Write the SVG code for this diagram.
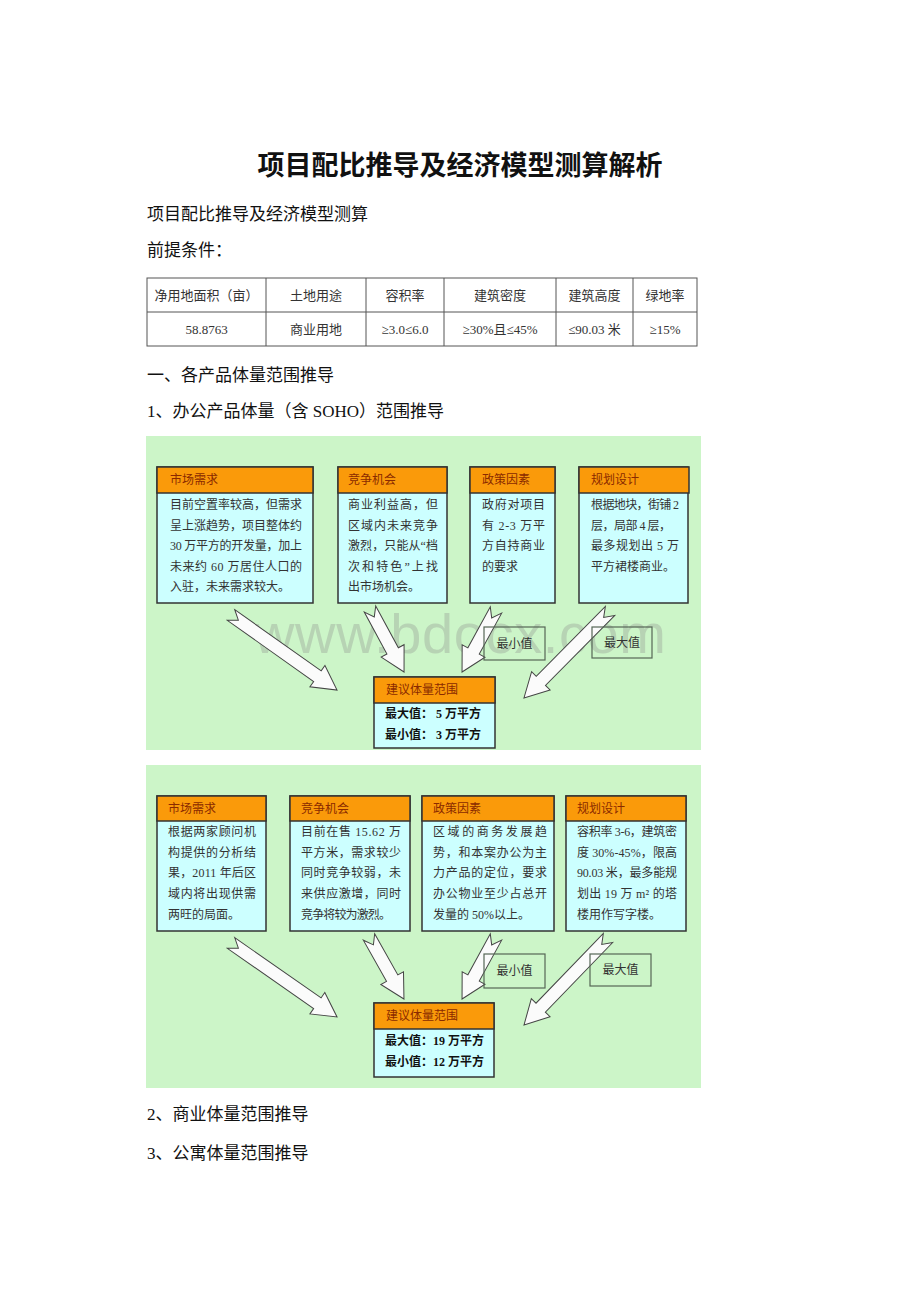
<svg xmlns="http://www.w3.org/2000/svg" width="920" height="1302" viewBox="0 0 920 1302">
<style>
.doc{font-family:"Liberation Serif","Noto Sans CJK SC",serif;font-size:17px;fill:#111}
.title{font-family:"Noto Sans CJK SC",sans-serif;font-size:27px;font-weight:700;fill:#111}
.tb{font-family:"Liberation Serif","Noto Sans CJK SC",serif;font-size:13px;fill:#333}
.grid{fill:none;stroke:#555;stroke-width:1}
.bg{fill:#ccf5c8}
.hd{fill:#fa9a0a;stroke:#333;stroke-width:1.5}
.bd{fill:#ccffff;stroke:#333;stroke-width:1.5}
.ht{font-family:"Liberation Serif","Noto Sans CJK SC",serif;font-size:12px;fill:#8a2a00}
.bt{font-family:"Liberation Serif","Noto Sans CJK SC",serif;font-size:12px;fill:#333}
.rv{font-family:"Liberation Serif","Noto Sans CJK SC",serif;font-size:12px;font-weight:700;fill:#111}
.co{fill:none;stroke:#556655;stroke-width:1.2}
.ct{font-family:"Liberation Serif","Noto Sans CJK SC",serif;font-size:12px;fill:#333}
.ar{fill:#fbfbfb;stroke:#444;stroke-width:1}
.wm{font-family:"Liberation Sans",Arial,sans-serif;font-size:56px;fill:#888;opacity:0.3}
</style>

<text class="title" x="460" y="175" text-anchor="middle">项目配比推导及经济模型测算解析</text>
<text class="doc" x="147" y="220">项目配比推导及经济模型测算</text>
<text class="doc" x="147" y="256">前提条件：</text>

<g id="table">
<rect class="grid" x="147" y="278" width="550" height="68"/>
<line class="grid" x1="147" y1="312" x2="697" y2="312"/>
<line class="grid" x1="266" y1="278" x2="266" y2="346"/>
<line class="grid" x1="366" y1="278" x2="366" y2="346"/>
<line class="grid" x1="444" y1="278" x2="444" y2="346"/>
<line class="grid" x1="556" y1="278" x2="556" y2="346"/>
<line class="grid" x1="633" y1="278" x2="633" y2="346"/>
<g text-anchor="middle">
<text class="tb" x="206.5" y="300">净用地面积（亩）</text>
<text class="tb" x="316" y="300">土地用途</text>
<text class="tb" x="405" y="300">容积率</text>
<text class="tb" x="500" y="300">建筑密度</text>
<text class="tb" x="594.5" y="300">建筑高度</text>
<text class="tb" x="665" y="300">绿地率</text>
<text class="tb" x="206.5" y="334">58.8763</text>
<text class="tb" x="316" y="334">商业用地</text>
<text class="tb" x="405" y="334">≥3.0≤6.0</text>
<text class="tb" x="500" y="334">≥30%且≤45%</text>
<text class="tb" x="594.5" y="334">≤90.03 米</text>
<text class="tb" x="665" y="334">≥15%</text>
</g>
</g>

<text class="doc" x="147" y="381">一、各产品体量范围推导</text>
<text class="doc" x="147" y="417">1、办公产品体量（含 SOHO）范围推导</text>

<!-- Diagram 1 -->
<rect class="bg" x="146" y="436" width="555" height="314"/>
<text class="wm" x="460" y="653" text-anchor="middle" textLength="412">www.bdocx.com</text>

<g id="d1-connectors">
<path class="ar" transform="translate(231,615) rotate(35.3)" d="M0,-6.5 L105.9,-6.5 L105.9,-13 L129.9,0 L105.9,13 L105.9,6.5 L0,6.5 L9,0 Z"/>
<path class="ar" transform="translate(370,609) rotate(61.6)" d="M0,-6.5 L47.6,-6.5 L47.6,-13 L71.6,0 L47.6,13 L47.6,6.5 L0,6.5 L9,0 Z"/>
<path class="ar" transform="translate(496,610) rotate(118.7)" d="M0,-6.5 L46.7,-6.5 L46.7,-13 L70.7,0 L46.7,13 L46.7,6.5 L0,6.5 L9,0 Z"/>
<path class="ar" transform="translate(610,611) rotate(134.7)" d="M0,-6.5 L98.3,-6.5 L98.3,-13 L122.3,0 L98.3,13 L98.3,6.5 L0,6.5 L9,0 Z"/>
</g>

<g id="d1-market">
<rect class="bd" x="157" y="467" width="156" height="136"/>
<rect class="hd" x="157" y="467" width="156" height="26"/>
<text class="ht" x="170" y="484">市场需求</text>
<text class="bt" x="170" y="509" textLength="132" lengthAdjust="spacing">目前空置率较高，但需求</text>
<text class="bt" x="170" y="529.5" textLength="132" lengthAdjust="spacing">呈上涨趋势，项目整体约</text>
<text class="bt" x="170" y="550" textLength="132" lengthAdjust="spacing">30 万平方的开发量，加上</text>
<text class="bt" x="170" y="570.5" textLength="132" lengthAdjust="spacing">未来约 60 万居住人口的</text>
<text class="bt" x="170" y="591">入驻，未来需求较大。</text>
</g>

<g id="d1-competition">
<rect class="bd" x="338" y="467" width="109" height="136"/>
<rect class="hd" x="338" y="467" width="109" height="26"/>
<text class="ht" x="348" y="484">竞争机会</text>
<text class="bt" x="348" y="509" textLength="90" lengthAdjust="spacing">商业利益高，但</text>
<text class="bt" x="348" y="529.5" textLength="90" lengthAdjust="spacing">区域内未来竞争</text>
<text class="bt" x="348" y="550" textLength="90" lengthAdjust="spacing">激烈，只能从“档</text>
<text class="bt" x="348" y="570.5" textLength="90" lengthAdjust="spacing">次和特色”上找</text>
<text class="bt" x="348" y="591">出市场机会。</text>
</g>

<g id="d1-policy">
<rect class="bd" x="470" y="467" width="85" height="136"/>
<rect class="hd" x="470" y="467" width="85" height="26"/>
<text class="ht" x="482" y="484">政策因素</text>
<text class="bt" x="482" y="509" textLength="63" lengthAdjust="spacing">政府对项目</text>
<text class="bt" x="482" y="529.5" textLength="63" lengthAdjust="spacing">有 2-3 万平</text>
<text class="bt" x="482" y="550" textLength="63" lengthAdjust="spacing">方自持商业</text>
<text class="bt" x="482" y="570.5">的要求</text>
</g>

<g id="d1-planning">
<rect class="bd" x="579" y="467" width="109" height="136"/>
<rect class="hd" x="579" y="467" width="110" height="26"/>
<text class="ht" x="591" y="484">规划设计</text>
<text class="bt" x="591" y="509" textLength="88" lengthAdjust="spacing">根据地块，街铺 2</text>
<text class="bt" x="591" y="529.5" textLength="80" lengthAdjust="spacing">层，局部 4 层，</text>
<text class="bt" x="591" y="550" textLength="88" lengthAdjust="spacing">最多规划出 5 万</text>
<text class="bt" x="591" y="570.5">平方裙楼商业。</text>
</g>

<g id="d1-min">
<rect class="co" x="484" y="627" width="61" height="33"/>
<text class="ct" x="514.5" y="648" text-anchor="middle">最小值</text>
</g>
<g id="d1-max">
<rect class="co" x="592" y="627" width="60" height="31"/>
<text class="ct" x="622" y="647" text-anchor="middle">最大值</text>
</g>

<g id="d1-result">
<rect class="bd" x="374" y="677" width="121" height="71"/>
<rect class="hd" x="374" y="677" width="121" height="26"/>
<text class="ht" x="386" y="694">建议体量范围</text>
<text class="rv" x="385" y="718">最大值：  5 万平方</text>
<text class="rv" x="385" y="739">最小值：  3 万平方</text>
</g>

<!-- Diagram 2 -->
<rect class="bg" x="146" y="765" width="555" height="323"/>

<g id="d2-connectors">
<path class="ar" transform="translate(231,943) rotate(34.9)" d="M0,-6.5 L105.3,-6.5 L105.3,-13 L129.3,0 L105.3,13 L105.3,6.5 L0,6.5 L9,0 Z"/>
<path class="ar" transform="translate(369,937) rotate(60.6)" d="M0,-6.5 L47.2,-6.5 L47.2,-13 L71.2,0 L47.2,13 L47.2,6.5 L0,6.5 L9,0 Z"/>
<path class="ar" transform="translate(496,937) rotate(118.7)" d="M0,-6.5 L46.7,-6.5 L46.7,-13 L70.7,0 L46.7,13 L46.7,6.5 L0,6.5 L9,0 Z"/>
<path class="ar" transform="translate(608,938) rotate(134)" d="M0,-6.5 L96.9,-6.5 L96.9,-13 L120.9,0 L96.9,13 L96.9,6.5 L0,6.5 L9,0 Z"/>
</g>

<g id="d2-market">
<rect class="bd" x="157" y="796" width="109" height="135"/>
<rect class="hd" x="157" y="796" width="109" height="25"/>
<text class="ht" x="168" y="813">市场需求</text>
<text class="bt" x="168" y="836" textLength="88" lengthAdjust="spacing">根据两家顾问机</text>
<text class="bt" x="168" y="856.5" textLength="88" lengthAdjust="spacing">构提供的分析结</text>
<text class="bt" x="168" y="877" textLength="88" lengthAdjust="spacing">果，2011 年后区</text>
<text class="bt" x="168" y="898" textLength="88" lengthAdjust="spacing">域内将出现供需</text>
<text class="bt" x="168" y="919">两旺的局面。</text>
</g>

<g id="d2-competition">
<rect class="bd" x="290" y="796" width="120" height="135"/>
<rect class="hd" x="290" y="796" width="120" height="25"/>
<text class="ht" x="301" y="813">竞争机会</text>
<text class="bt" x="301" y="836" textLength="100" lengthAdjust="spacing">目前在售 15.62 万</text>
<text class="bt" x="301" y="856.5" textLength="100" lengthAdjust="spacing">平方米，需求较少</text>
<text class="bt" x="301" y="877" textLength="100" lengthAdjust="spacing">同时竞争较弱，未</text>
<text class="bt" x="301" y="898" textLength="100" lengthAdjust="spacing">来供应激增，同时</text>
<text class="bt" x="301" y="919" textLength="90" lengthAdjust="spacing">竞争将较为激烈。</text>
</g>

<g id="d2-policy">
<rect class="bd" x="422" y="796" width="132" height="135"/>
<rect class="hd" x="422" y="796" width="132" height="25"/>
<text class="ht" x="433" y="813">政策因素</text>
<text class="bt" x="433" y="836" textLength="114" lengthAdjust="spacing">区域的商务发展趋</text>
<text class="bt" x="433" y="856.5" textLength="114" lengthAdjust="spacing">势，和本案办公为主</text>
<text class="bt" x="433" y="877" textLength="114" lengthAdjust="spacing">力产品的定位，要求</text>
<text class="bt" x="433" y="898" textLength="114" lengthAdjust="spacing">办公物业至少占总开</text>
<text class="bt" x="433" y="919">发量的 50%以上。</text>
</g>

<g id="d2-planning">
<rect class="bd" x="566" y="796" width="120" height="135"/>
<rect class="hd" x="566" y="796" width="120" height="25"/>
<text class="ht" x="577" y="813">规划设计</text>
<text class="bt" x="577" y="836" textLength="100" lengthAdjust="spacing">容积率 3-6，建筑密</text>
<text class="bt" x="577" y="856.5" textLength="100" lengthAdjust="spacing">度 30%-45%，限高</text>
<text class="bt" x="577" y="877" textLength="100" lengthAdjust="spacing">90.03 米，最多能规</text>
<text class="bt" x="577" y="898" textLength="100" lengthAdjust="spacing">划出 19 万 m² 的塔</text>
<text class="bt" x="577" y="919">楼用作写字楼。</text>
</g>

<g id="d2-min">
<rect class="co" x="484" y="954" width="61" height="34"/>
<text class="ct" x="514.5" y="975" text-anchor="middle">最小值</text>
</g>
<g id="d2-max">
<rect class="co" x="590" y="954" width="61" height="32"/>
<text class="ct" x="620.5" y="974" text-anchor="middle">最大值</text>
</g>

<g id="d2-result">
<rect class="bd" x="374" y="1003" width="120" height="74"/>
<rect class="hd" x="374" y="1003" width="120" height="26"/>
<text class="ht" x="386" y="1020">建议体量范围</text>
<text class="rv" x="385" y="1045">最大值：19 万平方</text>
<text class="rv" x="385" y="1066">最小值：12 万平方</text>
</g>

<text class="doc" x="147" y="1120">2、商业体量范围推导</text>
<text class="doc" x="147" y="1159">3、公寓体量范围推导</text>
</svg>
